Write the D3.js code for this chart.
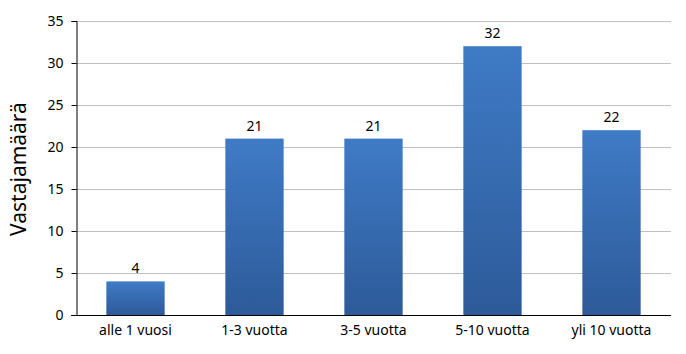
<!DOCTYPE html>
<html>
<head>
<meta charset="utf-8">
<script src="https://cdn.jsdelivr.net/npm/d3@7"></script>
<style>
  body { margin: 0; background: #fff; }
  text { font-family: "Noto Sans", sans-serif; fill: #000; }
</style>
</head>
<body>
<svg id="chart" width="686" height="354"></svg>
<script>
const categories = ['alle 1 vuosi', '1-3 vuotta', '3-5 vuotta', '5-10 vuotta', 'yli 10 vuotta'];
const values = [4, 21, 21, 32, 22];
const yTicks = [0, 5, 10, 15, 20, 25, 30, 35];

const svg = d3.select('#chart');
const margin = { left: 76, right: 15, top: 21, bottom: 39 };
const width = 686 - margin.left - margin.right;
const height = 354 - margin.top - margin.bottom;

// gradient for bars
const grad = svg.append('defs').append('linearGradient')
    .attr('id', 'barGrad')
    .attr('x1', 0).attr('y1', 0).attr('x2', 0).attr('y2', 1);
grad.append('stop').attr('offset', '0%').attr('stop-color', '#3f7bc6');
grad.append('stop').attr('offset', '100%').attr('stop-color', '#2d5a99');

const g = svg.append('g').attr('transform', `translate(${margin.left},${margin.top})`);

const x = d3.scaleBand().domain(categories).range([0, width]).paddingInner(0.51).paddingOuter(0.255);
const y = d3.scaleLinear().domain([0, 35]).range([height, 0]);

// gridlines
g.append('g').selectAll('line')
    .data(yTicks.slice(1))
    .enter().append('line')
    .attr('x1', 0).attr('x2', width)
    .attr('y1', d => y(d) + 0.5).attr('y2', d => y(d) + 0.5)
    .attr('stroke', '#bfbfbf')
    .attr('stroke-width', 1);

// bars
g.append('g').selectAll('rect')
    .data(values)
    .enter().append('rect')
    .attr('x', (d, i) => x(categories[i]))
    .attr('width', x.bandwidth())
    .attr('y', d => y(d))
    .attr('height', d => height - y(d))
    .attr('fill', 'url(#barGrad)');

// value labels
g.append('g').selectAll('text')
    .data(values)
    .enter().append('text')
    .attr('x', (d, i) => x(categories[i]) + x.bandwidth() / 2)
    .attr('y', d => y(d) - 8)
    .attr('text-anchor', 'middle')
    .attr('font-size', '14px')
    .text(d => d);

// y axis
const yAxis = g.append('g')
    .attr('transform', 'translate(0.5,0)')
    .call(d3.axisLeft(y).tickValues(yTicks).tickSize(5).tickPadding(8));
yAxis.select('.domain').attr('stroke', '#000');
yAxis.selectAll('.tick line').attr('stroke', '#000');
yAxis.selectAll('.tick text').attr('font-size', '14px').attr('fill', '#000');

// x axis
const xAxis = g.append('g')
    .attr('transform', `translate(0,${height + 0.5})`)
    .call(d3.axisBottom(x).tickSize(0).tickPadding(10));
xAxis.select('.domain').attr('stroke', '#000').attr('d', `M-5,0H${width}`);
xAxis.selectAll('.tick text').attr('font-size', '14px').attr('fill', '#000');

// y title
svg.append('text')
    .attr('transform', `translate(26,${margin.top + height / 2 + 1}) rotate(-90)`)
    .attr('text-anchor', 'middle')
    .attr('font-size', '21px')
    .text('Vastajamäärä');
</script>
</body>
</html>
